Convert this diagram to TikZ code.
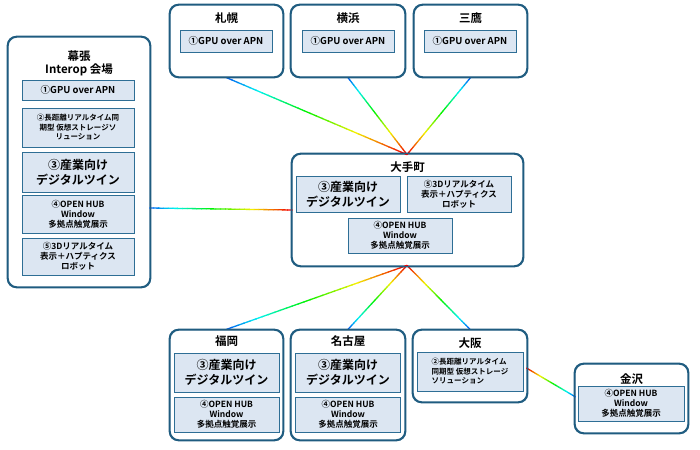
\documentclass[tikz,border=0pt]{standalone}
\usepackage{fontspec}
\setmainfont{Noto Sans CJK JP}[BoldFont={Noto Sans CJK JP Bold}]
\usetikzlibrary{calc}
\definecolor{obd}{HTML}{1F5C80}
\definecolor{ibd}{HTML}{2E6E95}
\definecolor{ifl}{HTML}{DCE6F2}
\newcommand\rbline[2]{%
  \foreach \i in {0,...,29}{%
    \pgfmathsetmacro\hh{\i*215/29}%
    \pgfmathsetmacro\ss{\i/30}%
    \pgfmathsetmacro\ee{min(1,(\i+1.15)/30)}%
    \definecolor{rbc}{Hsb}{\hh,1,0.95}%
    \draw[rbc,line width=1.3pt] ($#1!\ss!#2$) -- ($#1!\ee!#2$);
  }}
\begin{document}
\begin{tikzpicture}[x=1pt,y=-1pt,
  outer/.style={draw=obd,line width=1.3pt,rounded corners=9pt,fill=white,inner sep=0},
  inner/.style={draw=ibd,line width=0.9pt,fill=ifl,inner sep=0,align=center,font=\bfseries\fontsize{8.5}{10}\selectfont},
  big/.style={font=\bfseries\fontsize{12}{15}\selectfont},
  ttl/.style={font=\bfseries\fontsize{11.5}{13}\selectfont,align=center,inner sep=0}]
\useasboundingbox (0,0) rectangle (700,449);
% outer boxes
\node[outer,minimum width=142pt,minimum height=250pt] (mk) at (79,162) {};
\node[outer,minimum width=113pt,minimum height=72pt] (sp) at (226.5,41) {};
\node[outer,minimum width=114pt,minimum height=72pt] (yh) at (348,41) {};
\node[outer,minimum width=113pt,minimum height=72pt] (mt) at (470.5,41) {};
\node[outer,minimum width=231pt,minimum height=112pt] (ot) at (407.5,210) {};
\node[outer,minimum width=113pt,minimum height=110pt] (fk) at (226.5,385) {};
\node[outer,minimum width=114pt,minimum height=110pt] (ng) at (348,385) {};
\node[outer,minimum width=114pt,minimum height=72pt] (os) at (470,366) {};
\node[outer,minimum width=113pt,minimum height=69pt] (kz) at (631.5,398.5) {};
% connectors
\coordinate (otn) at (407,154.6);
\coordinate (ots) at (407,265.4);
\coordinate (otw) at (292.6,210);
\coordinate (mke) at (149.4,208);
\coordinate (ose) at (526.4,368);
\coordinate (kzw) at (575.6,397);
\rbline{(otn)}{(sp.south)}
\rbline{(otn)}{(yh.south)}
\rbline{(otn)}{(mt.south)}
\rbline{(otw)}{(mke)}
\rbline{(ots)}{(fk.north)}
\rbline{(ots)}{(ng.north)}
\rbline{(ots)}{(os.north)}
\rbline{(ose)}{(kzw)}
% redraw outer borders on top
\foreach \n in {mk,sp,yh,mt,ot,fk,ng,os,kz}{\draw[obd,line width=1.3pt,rounded corners=9pt] (\n.north west) rectangle (\n.south east);}
% titles
\node[ttl] (mkt) at (79,63) {幕張\\Interop 会場};
\node[ttl] (spt) at (226.5,18) {札幌};
\node[ttl] (yht) at (348,18) {横浜};
\node[ttl] (mtt) at (470.5,18) {三鷹};
\node[ttl] (ott) at (407.5,167) {大手町};
\node[ttl] (fkt) at (226.5,341) {福岡};
\node[ttl] (ngt) at (348,341) {名古屋};
\node[ttl] (ost) at (470,343) {大阪};
\node[ttl] (kzt) at (631.5,379) {金沢};
% inner boxes
\node[inner,minimum width=112pt,minimum height=20pt,font=\bfseries\fontsize{9.5}{11}\selectfont] (mk1) at (78,90) {①GPU over APN};
\node[inner,minimum width=112pt,minimum height=39pt,font=\bfseries\fontsize{7.5}{9.5}\selectfont] (mk2) at (78,127.5) {②長距離リアルタイム同\\期型 仮想ストレージソ\\リューション};
\node[inner,minimum width=112pt,minimum height=40pt,big] (mk3) at (78,172) {③産業向け\\デジタルツイン};
\node[inner,minimum width=112pt,minimum height=38pt] (mk4) at (78,214) {④OPEN HUB\\Window\\多拠点触覚展示};
\node[inner,minimum width=112pt,minimum height=37pt] (mk5) at (78,256.5) {⑤3Dリアルタイム\\表示＋ハプティクス\\ロボット};
\node[inner,minimum width=92pt,minimum height=22pt,font=\bfseries\fontsize{9.5}{11}\selectfont] (sp1) at (226,41) {①GPU over APN};
\node[inner,minimum width=92pt,minimum height=22pt,font=\bfseries\fontsize{9.5}{11}\selectfont] (yh1) at (348,41) {①GPU over APN};
\node[inner,minimum width=92pt,minimum height=22pt,font=\bfseries\fontsize{9.5}{11}\selectfont] (mt1) at (470,41) {①GPU over APN};
\node[inner,minimum width=104pt,minimum height=36pt,big] (ot3) at (348,194) {③産業向け\\デジタルツイン};
\node[inner,minimum width=104pt,minimum height=36pt] (ot5) at (459,194) {⑤3Dリアルタイム\\表示＋ハプティクス\\ロボット};
\node[inner,minimum width=104pt,minimum height=35pt] (ot4) at (400,235.5) {④OPEN HUB\\Window\\多拠点触覚展示};
\node[inner,minimum width=105pt,minimum height=39pt,big] (fk3) at (226.5,372.5) {③産業向け\\デジタルツイン};
\node[inner,minimum width=105pt,minimum height=35pt] (fk4) at (226.5,414.5) {④OPEN HUB\\Window\\多拠点触覚展示};
\node[inner,minimum width=105pt,minimum height=39pt,big] (ng3) at (348,372.5) {③産業向け\\デジタルツイン};
\node[inner,minimum width=105pt,minimum height=35pt] (ng4) at (348,414.5) {④OPEN HUB\\Window\\多拠点触覚展示};
\node[inner,minimum width=106pt,minimum height=39pt,align=left,font=\bfseries\fontsize{7.5}{9.5}\selectfont] (os2) at (470,371.5) {②長距離リアルタイム\\同期型 仮想ストレージ\\ソリューション};
\node[inner,minimum width=106pt,minimum height=35pt] (kz4) at (631,403.5) {④OPEN HUB\\Window\\多拠点触覚展示};
\end{tikzpicture}
\end{document}
